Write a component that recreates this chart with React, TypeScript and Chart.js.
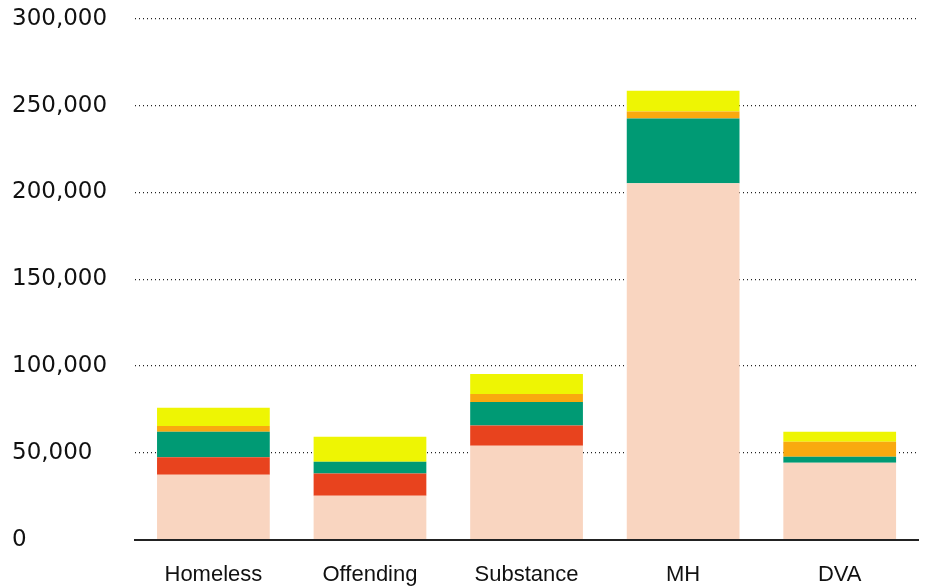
import React, { useEffect, useRef } from "react";
import { Chart, registerables } from "chart.js";

Chart.register(...registerables);

const categories = ["Homeless", "Offending", "Substance", "MH", "DVA"];
const seriesPeach = [37400, 25300, 54000, 205200, 44300];
const seriesRed = [10000, 12800, 11700, 0, 0];
const seriesGreen = [14700, 6700, 13600, 37300, 3400];
const seriesOrange = [3400, 0, 4600, 4100, 8600];
const seriesYellow = [10400, 14400, 11500, 12000, 5800];
const yTicks = [0, 50000, 100000, 150000, 200000, 250000, 300000];

export default function App() {
  const ref = useRef<HTMLCanvasElement | null>(null);
  useEffect(() => {
    if (!ref.current) return;
    const mk = (label: string, data: number[], color: string) => ({
      label,
      data,
      backgroundColor: color,
      borderWidth: 0,
      categoryPercentage: 1,
      barPercentage: 0.72,
    });
    const chart = new Chart(ref.current, {
      type: "bar",
      data: {
        labels: categories,
        datasets: [
          mk("Series 1", seriesPeach, "#F9D5C0"),
          mk("Series 2", seriesRed, "#E8431E"),
          mk("Series 3", seriesGreen, "#009A74"),
          mk("Series 4", seriesOrange, "#F9A90F"),
          mk("Series 5", seriesYellow, "#EEF503"),
        ],
      },
      options: {
        animation: false,
        responsive: true,
        maintainAspectRatio: false,
        layout: { padding: { left: 2, right: 4, top: 0, bottom: 0 } },
        plugins: { legend: { display: false }, tooltip: { enabled: false } },
        scales: {
          x: {
            stacked: true,
            grid: { display: false },
            border: { display: true, color: "#222", width: 2 },
            ticks: {
              color: "#111",
              font: { family: "Liberation Sans", size: 22 },
              padding: 14,
            },
          },
          y: {
            stacked: true,
            min: 0,
            max: 300000,
            afterBuildTicks: (axis: any) => {
              axis.ticks = yTicks.map((v) => ({ value: v }));
            },
            grid: {
              color: "#222",
              lineWidth: 1.2,
              drawTicks: false,
            },
            border: { display: false, dash: [1, 3] },
            ticks: {
              color: "#111",
              crossAlign: "far",
              padding: 14,
              font: { family: "DejaVu Sans", size: 23 },
              callback: (v: any) => Number(v).toLocaleString("en-US"),
            },
          },
        },
      },
    });
    return () => chart.destroy();
  }, []);
  return (
    <div style={{ position: "fixed", left: 10, top: -9, width: 912, height: 611 }}>
      <canvas ref={ref} />
    </div>
  );
}
